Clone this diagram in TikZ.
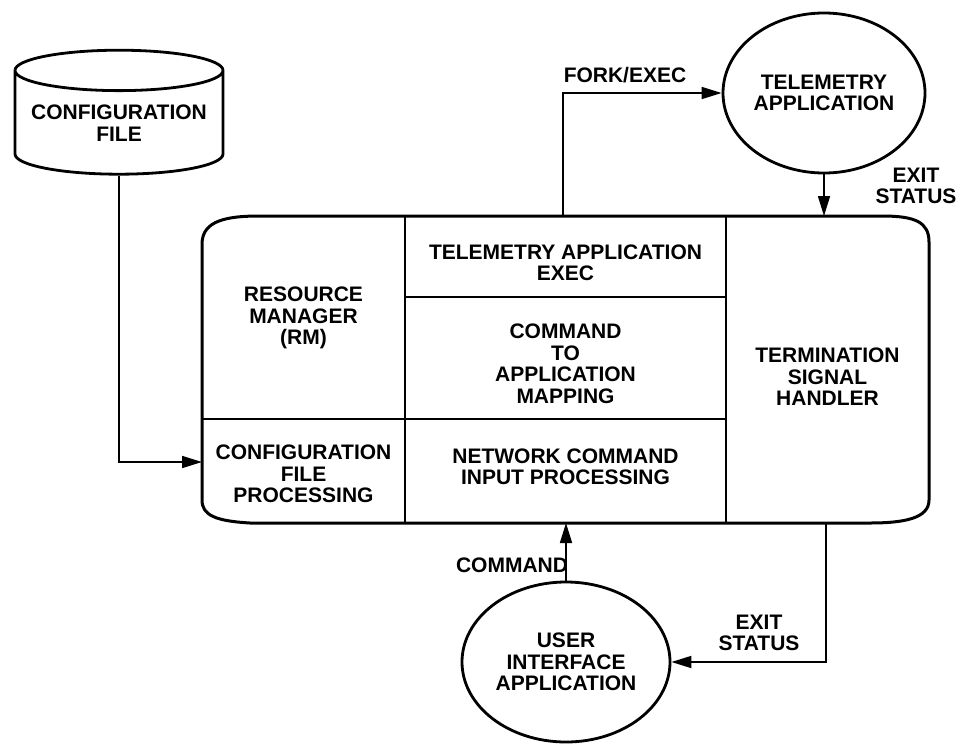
\documentclass[tikz,border=0pt]{standalone}
\usepackage{fontspec}
\setmainfont{Liberation Sans}
\usetikzlibrary{arrows.meta}
\usetikzlibrary{shapes.geometric}

\begin{document}
\begin{tikzpicture}[x=1pt,y=-1pt,>={Triangle[length=20pt,width=12pt]},line width=1.7pt,
  lbl/.style={font=\fontsize{21}{21.5}\selectfont\bfseries,align=center,inner sep=0pt},
  app node/.style={ellipse,draw,line width=2.8pt,lbl},
  file node/.style={cylinder,shape border rotate=90,draw,line width=2.8pt,aspect=0.23,lbl}]
  \useasboundingbox (0,0) rectangle (966,744);

  % the manager box
  \draw[line width=3pt] (202,244) .. controls (202,220) and (228,216) .. (260,216) -- (882,216)
    .. controls (915,216) and (929,222) .. (929,242) -- (929,500)
    .. controls (929,518) and (905,523) .. (870,523) -- (250,523)
    .. controls (215,521) and (202,515) .. (202,500) -- cycle;
  \draw (405,216) -- (405,523);
  \draw (726,216) -- (726,523);
  \draw (405,297) -- (726,297);
  \draw (202,419) -- (726,419);

  \node[lbl] (rm) at (303.5,318) {RESOURCE\\MANAGER\\(RM)};
  \node[lbl] (telexec) at (565.5,263) {TELEMETRY APPLICATION\\EXEC};
  \node[lbl] (cmdmap) at (565.5,364) {COMMAND\\TO\\APPLICATION\\MAPPING};
  \node[lbl] (cfgproc) at (303.5,474) {CONFIGURATION\\FILE\\PROCESSING};
  \node[lbl] (netcmd) at (565.5,467) {NETWORK COMMAND\\INPUT PROCESSING};
  \node[lbl] (term) at (827.5,377) {TERMINATION\\SIGNAL\\HANDLER};

  % outside
  \node[file node,minimum width=208pt,minimum height=124pt] (cfgfile) at (119,123) {CONFIGURATION\\FILE};
  \node[app node,minimum width=202pt,minimum height=160pt] (telapp) at (824,93) {TELEMETRY\\APPLICATION};
  \node[app node,minimum width=208pt,minimum height=160pt] (uiapp) at (566,662) {USER\\INTERFACE\\APPLICATION};

  \coordinate (cfgin) at (202,462);
  \coordinate (forkout) at (563,216);
  \coordinate (exitin) at (824,216);
  \coordinate (cmdin) at (566,523);
  \coordinate (exitout) at (826,523);

  \draw[->] (cfgfile.south) |- (cfgin);
  \draw[->] (forkout) |- (telapp.west);
  \draw[->] (telapp.south) -- (exitin);
  \draw[->] (uiapp.north) -- (cmdin);
  \draw[->] (exitout) |- (uiapp.east);

  \node[lbl] (forklbl) at (625,75) {FORK/EXEC};
  \node[lbl] (exitlbl) at (916,186) {EXIT\\STATUS};
  \node[lbl] (cmdlbl) at (512,565) {COMMAND};
  \node[lbl] (uiexitlbl) at (759,633) {EXIT\\STATUS};
\end{tikzpicture}
\end{document}
